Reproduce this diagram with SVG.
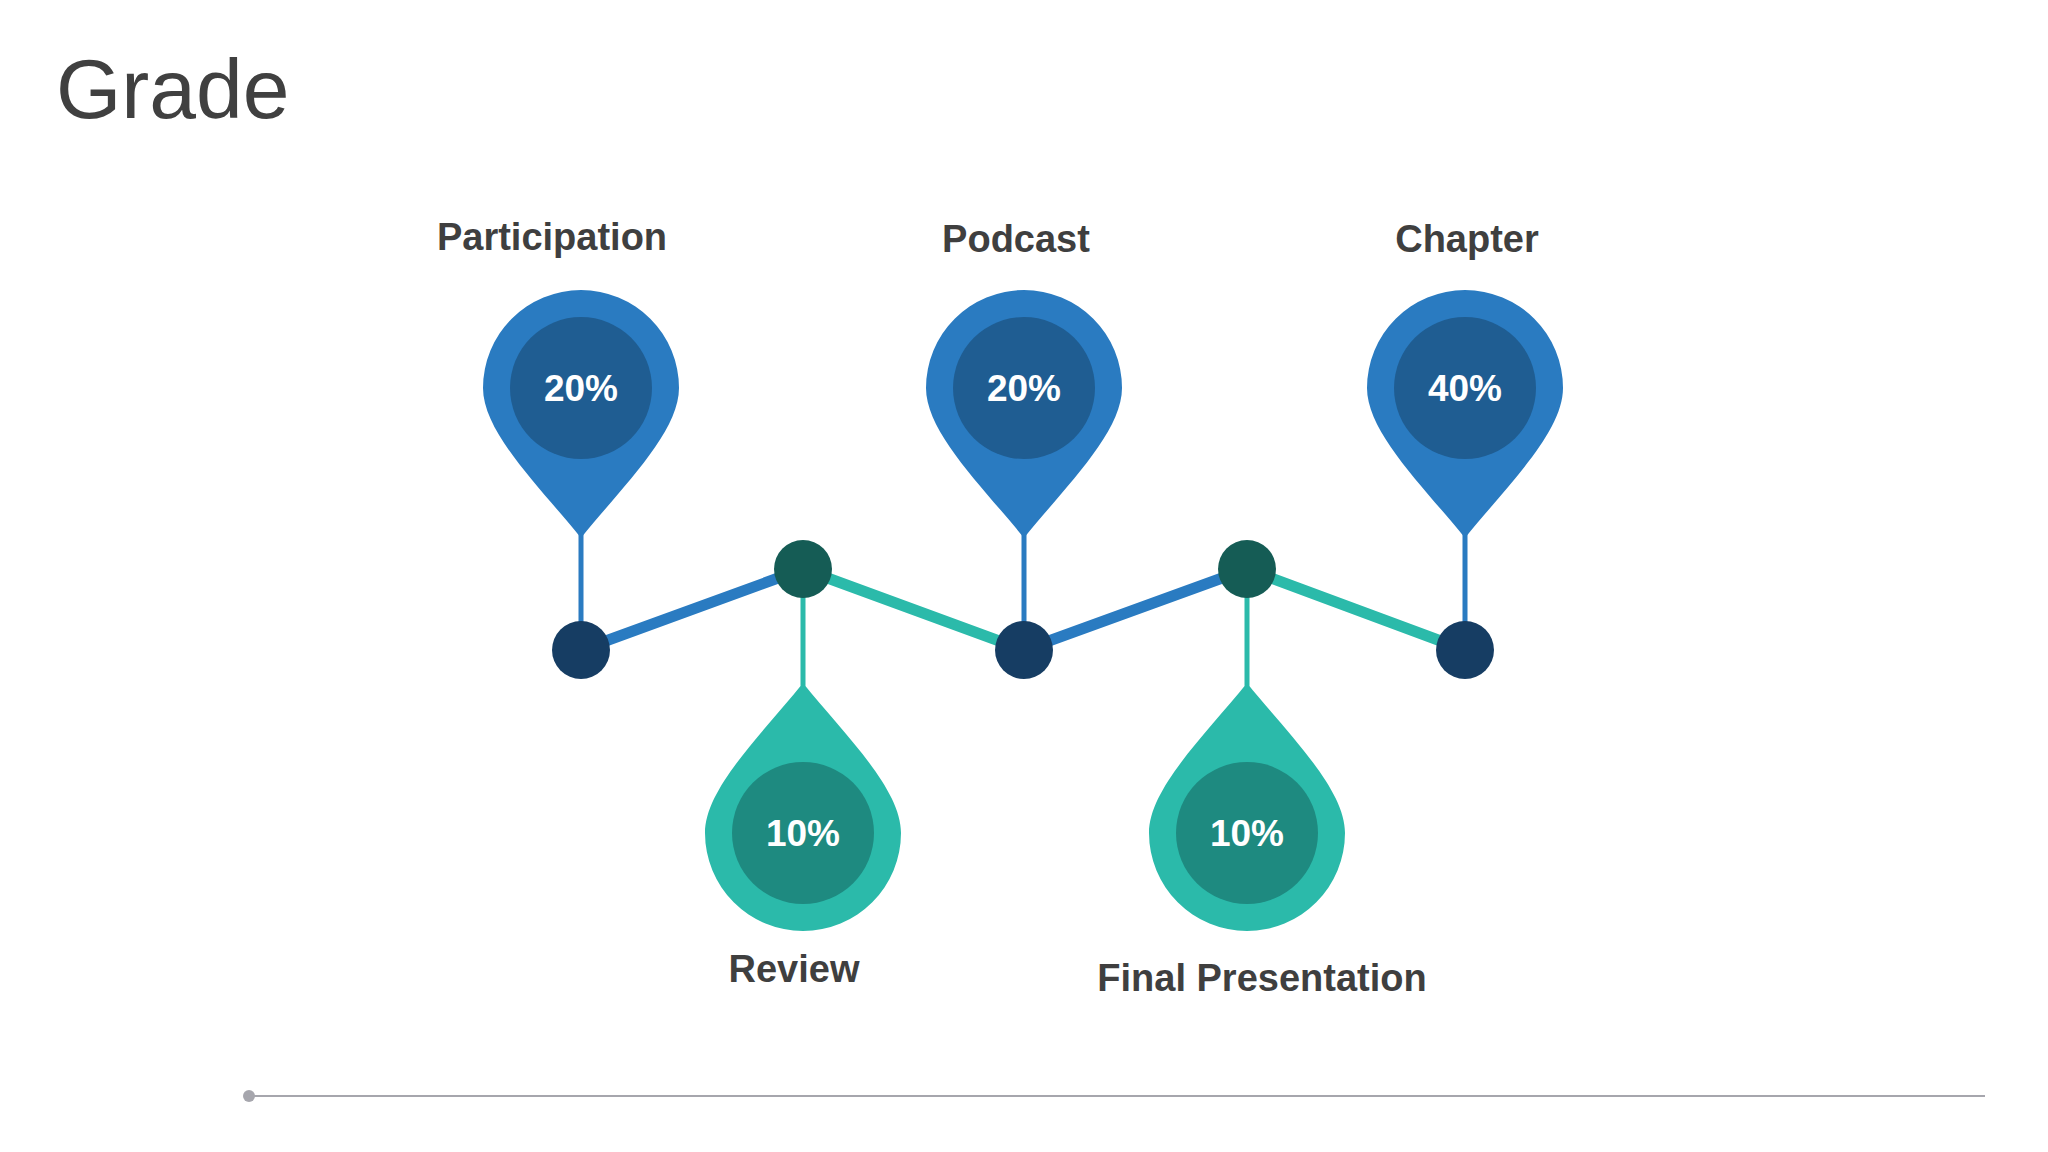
<svg xmlns="http://www.w3.org/2000/svg" width="2048" height="1152" viewBox="0 0 2048 1152">
<defs>
<style>
.lbl{font-family:"Liberation Sans",Arial,sans-serif;font-weight:bold;font-size:38px;fill:#3f3f3f;text-anchor:middle}
.pct{font-family:"Liberation Sans",Arial,sans-serif;font-weight:bold;font-size:37px;fill:#fff;text-anchor:middle}
.bo{fill:#2a7bc1}.bi{fill:#1f5d92}.to{fill:#2bbaaa}.ti{fill:#1e8a80}
.bd{fill:#163d63}.td{fill:#155c55}
</style>
<path id="pin" d="M0,150 C-40,100 -98,45 -98,0 A98,98 0 1 1 98,0 C98,45 40,100 0,150 Z"/>
</defs>
<rect width="2048" height="1152" fill="#fff"/>
<text x="56" y="118" font-family="Liberation Sans,Arial,sans-serif" font-size="84" fill="#404040">Grade</text>
<g id="connectors" stroke-linecap="round">
<line x1="581" y1="535" x2="581" y2="650" stroke="#2a7bc1" stroke-width="5"/>
<line x1="1024" y1="535" x2="1024" y2="650" stroke="#2a7bc1" stroke-width="5"/>
<line x1="1465" y1="535" x2="1465" y2="650" stroke="#2a7bc1" stroke-width="5"/>
<line x1="803" y1="569" x2="803" y2="685" stroke="#2bbaaa" stroke-width="5"/>
<line x1="1247" y1="569" x2="1247" y2="685" stroke="#2bbaaa" stroke-width="5"/>
<line x1="581" y1="650" x2="803" y2="569" stroke="#2a7bc1" stroke-width="11"/>
<line x1="803" y1="569" x2="1024" y2="650" stroke="#2bbaaa" stroke-width="11"/>
<line x1="1024" y1="650" x2="1247" y2="569" stroke="#2a7bc1" stroke-width="11"/>
<line x1="1247" y1="569" x2="1465" y2="650" stroke="#2bbaaa" stroke-width="11"/>
</g>
<g id="dots">
<circle class="bd" cx="581" cy="650" r="29"/><circle class="bd" cx="1024" cy="650" r="29"/><circle class="bd" cx="1465" cy="650" r="29"/>
<circle class="td" cx="803" cy="569" r="29"/><circle class="td" cx="1247" cy="569" r="29"/>
</g>
<g id="participation"><use href="#pin" class="bo" x="581" y="388"/><circle class="bi" cx="581" cy="388" r="71"/><text class="pct" x="581" y="401">20%</text><text class="lbl" x="552" y="250">Participation</text></g>
<g id="podcast"><use href="#pin" class="bo" x="1024" y="388"/><circle class="bi" cx="1024" cy="388" r="71"/><text class="pct" x="1024" y="401">20%</text><text class="lbl" x="1016" y="252">Podcast</text></g>
<g id="chapter"><use href="#pin" class="bo" x="1465" y="388"/><circle class="bi" cx="1465" cy="388" r="71"/><text class="pct" x="1465" y="401">40%</text><text class="lbl" x="1467" y="252">Chapter</text></g>
<g id="review"><use href="#pin" class="to" transform="translate(803,833) scale(1,-1)"/><circle class="ti" cx="803" cy="833" r="71"/><text class="pct" x="803" y="846">10%</text><text class="lbl" x="794" y="982">Review</text></g>
<g id="final"><use href="#pin" class="to" transform="translate(1247,833) scale(1,-1)"/><circle class="ti" cx="1247" cy="833" r="71"/><text class="pct" x="1247" y="846">10%</text><text class="lbl" x="1262" y="991">Final Presentation</text></g>
<g id="footer"><line x1="249" y1="1096" x2="1985" y2="1096" stroke="#a6a6ad" stroke-width="2"/><circle cx="249" cy="1096" r="6" fill="#a6a6ad"/></g>
</svg>
